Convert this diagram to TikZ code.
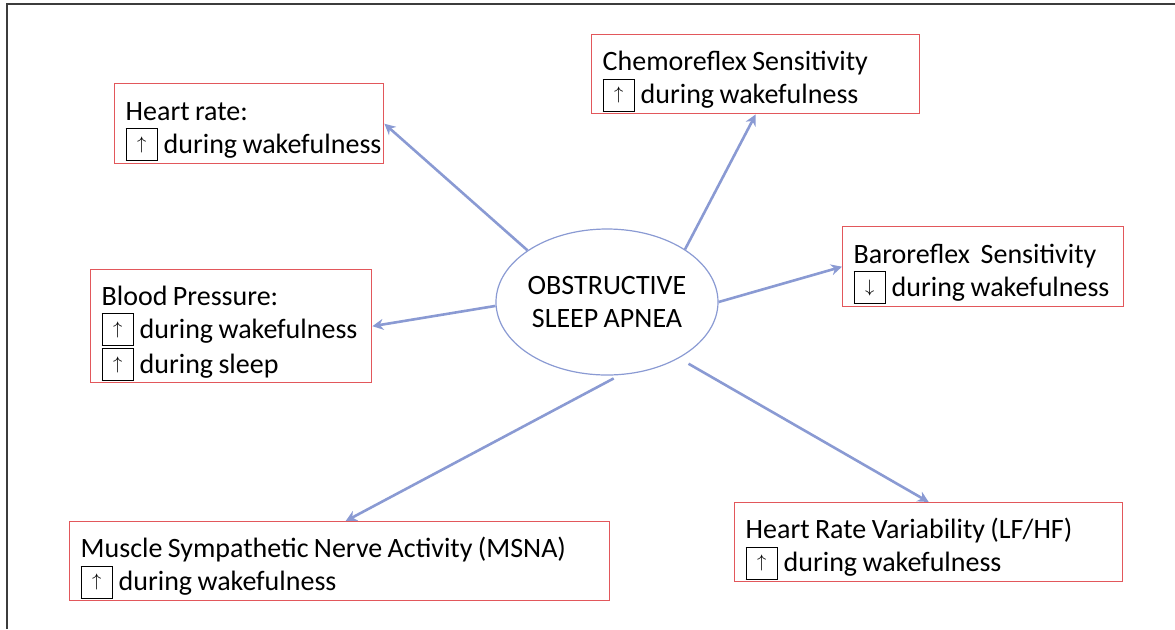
\documentclass[tikz,border=0pt]{standalone}
\usepackage{fontspec}
\setmainfont{Carlito}[WordSpace=0.85]
\usetikzlibrary{arrows.meta,shapes.geometric}
\definecolor{rojo}{HTML}{E2575B}
\definecolor{lila}{HTML}{8A9AD3}
\definecolor{marco}{HTML}{3C3C3C}
\newcommand{\flecha}[1]{\raisebox{-3.5pt}{\setlength{\fboxsep}{0pt}\setlength{\fboxrule}{0.5pt}%
  \fbox{\parbox[b][15.5pt][c]{15pt}{\centering\fontsize{9.5}{9.5}\selectfont$#1$}}}\hspace{3pt}}

\begin{document}
\begin{tikzpicture}[x=0.5pt, y=-0.5pt, font=\fontsize{14}{16.3}\selectfont,
      >={Stealth[length=5.5pt, width=5.5pt]},
      caja/.style={draw=rojo, line width=0.7pt, anchor=north west, align=flush left,
                   inner xsep=5.5pt, inner ysep=0pt,
                   execute at begin node={\rule{0pt}{17pt}}},
      flujo/.style={->, lila, line width=1.3pt}]
    \useasboundingbox (0,0) rectangle (1175,629);
    \draw[marco, line width=1pt] (7,629) -- (7,4) -- (1175,4);
    \node[ellipse, draw=lila, line width=0.6pt, minimum width=111pt, minimum height=73pt,
          inner xsep=-1pt, inner ysep=0pt, align=center] (osa) at (607,302)
        {OBSTRUCTIVE\\SLEEP APNEA};
    \node[caja, text width=123.5pt, minimum height=40pt] (hr) at (114,83)
        {Heart rate:\\\mbox{\flecha{\uparrow}during wakefulness}};
    \node[caja, text width=153pt, minimum height=39.5pt] (chemo) at (591,34)
        {Chemoreflex Sensitivity\\\mbox{\flecha{\uparrow}during wakefulness}};
    \node[caja, text width=129.5pt, minimum height=40pt] (baro) at (842,226)
        {Baroreflex~ Sensitivity\\\mbox{\flecha{\downarrow}during wakefulness}};
    \node[caja, text width=129.5pt, minimum height=56.5pt] (bp) at (90,269)
        {Blood Pressure:\\\mbox{\flecha{\uparrow}during wakefulness}\\\mbox{\flecha{\uparrow}during sleep}};
    \node[caja, text width=259pt, minimum height=39.5pt] (msna) at (69,521)
        {Muscle Sympathetic Nerve Activity (MSNA)\\\mbox{\flecha{\uparrow}during wakefulness}};
    \node[caja, text width=183pt, minimum height=39.5pt] (hrv) at (734,502)
        {Heart Rate Variability (LF/HF)\\\mbox{\flecha{\uparrow}during wakefulness}};
    \draw[flujo] (osa.147.5) -- (hr.east);
    \draw[flujo] (osa.34) -- (chemo.south);
    \draw[flujo] (osa.east) -- (baro.west);
    \draw[flujo] (osa.182) -- (bp.east);
    \draw[flujo, shorten <=3.5pt] (osa.-80) -- ([xshift=3pt]msna.north);
    \draw[flujo, shorten <=5.5pt] (osa.-38.4) -- (hrv.north);
  \end{tikzpicture}
\end{document}
